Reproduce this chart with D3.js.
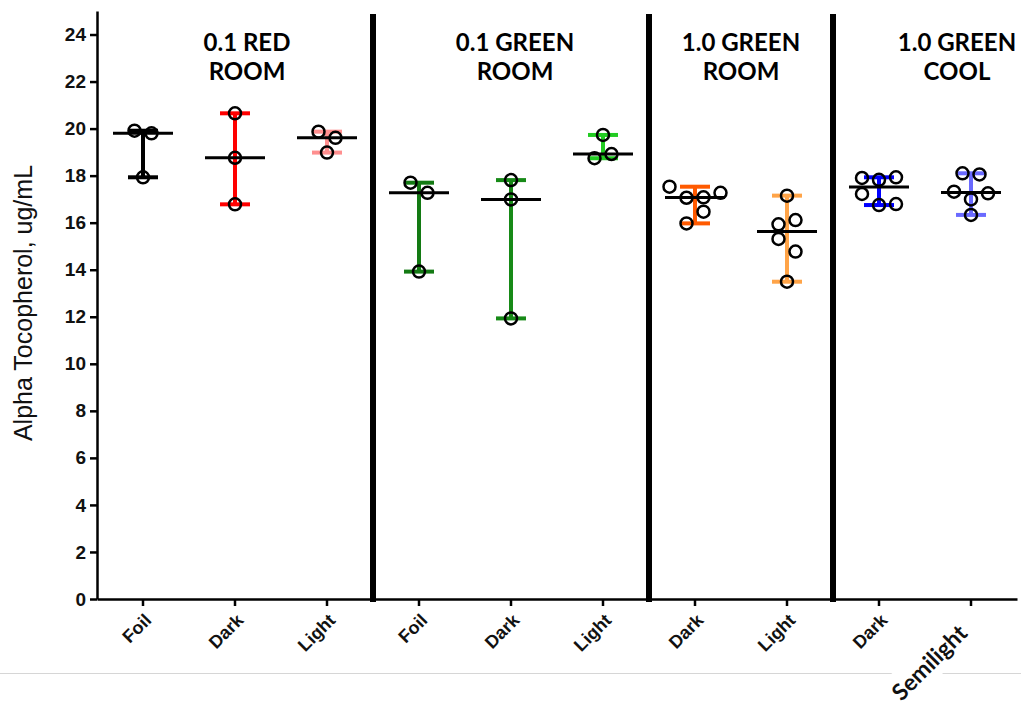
<!DOCTYPE html>
<html>
<head>
<meta charset="utf-8">
<script src="https://cdn.jsdelivr.net/npm/d3@7"></script>
<style>
  html, body { margin: 0; padding: 0; background: #fff; overflow: hidden; }
  svg { display: block; }
</style>
</head>
<body>
<div id="chart"></div>
<script>
const WIDTH  = 1021;
const HEIGHT = 711;

// categories along the x axis (left to right)
const categories = ["Foil", "Dark", "Light", "Foil", "Dark", "Light", "Dark", "Light", "Dark", "Semilight"];

// condition groups, title lines and how many categories each spans
const groupTitles = [["0.1 RED", "ROOM"], ["0.1 GREEN", "ROOM"], ["1.0 GREEN", "ROOM"], ["1.0 GREEN", "COOL"]];
const groupSizes  = [3, 3, 2, 2];

// measured values (ug/mL), one array per category
const redFoil    = [19.91, 19.80, 17.93];
const redDark    = [20.65, 18.76, 16.78];
const redLight   = [19.87, 19.61, 18.98];
const greenFoil  = [17.70, 17.27, 13.92];
const greenDark  = [17.81, 16.99, 11.93];
const greenLight = [19.73, 18.74, 18.92];
const roomDark   = [17.53, 17.06, 17.08, 17.27, 15.97, 16.47];
const roomLight  = [17.15, 15.93, 16.11, 15.31, 14.77, 13.49];
const coolDark   = [17.90, 17.82, 17.93, 17.22, 16.75, 16.79];
const coolSemi   = [18.10, 18.05, 17.32, 16.99, 17.25, 16.33];

const series = [redFoil, redDark, redLight, greenFoil, greenDark, greenLight,
                roomDark, roomLight, coolDark, coolSemi];

// range bar colour per category
const barColors = ["#000000", "#ff0000", "#ff8f8f", "#137a13", "#178a17", "#22cc22",
                   "#ff5a00", "#ffa448", "#0000ff", "#6a6aff"];

const yTicks = d3.range(0, 25, 2);

// layout
const X0 = 97, X1 = 1017, Y0 = 599, YTOP = 11;
const DOT_R = 6;
const MEDIAN_HALF = 30;
const CAP_HALF = 15;
const BIN_PX = 13;
const DODGE = 17;
const titleDx = [12, 4, 0, 32];

const svg = d3.select("#chart").append("svg")
  .attr("width", WIDTH)
  .attr("height", HEIGHT)
  .style("background", "#fff");

// faint page separator line
svg.append("line")
  .attr("x1", 0).attr("x2", WIDTH)
  .attr("y1", 673.5).attr("y2", 673.5)
  .attr("stroke", "#d6d6d6").attr("stroke-width", 1);

const x = d3.scaleBand().domain(d3.range(categories.length)).range([X0, X1]);
const y = d3.scaleLinear().domain([0, 25]).range([Y0, YTOP]);
const cx = i => x(i) + x.bandwidth() / 2;

// y axis
const yAxis = svg.append("g")
  .attr("transform", `translate(${X0},0)`)
  .call(d3.axisLeft(y).tickValues(yTicks).tickSize(7).tickSizeOuter(0).tickPadding(4));
yAxis.select(".domain").attr("stroke", "#000").attr("stroke-width", 2.5);
yAxis.selectAll(".tick line").attr("stroke", "#000").attr("stroke-width", 2.5);
yAxis.selectAll(".tick text")
  .attr("fill", "#111")
  .style("font-family", "'Liberation Sans', Arial, sans-serif")
  .style("font-weight", "bold")
  .style("font-size", "19px");

// y title
svg.append("text")
  .attr("transform", "translate(23,303) rotate(-90)")
  .attr("text-anchor", "middle")
  .attr("dominant-baseline", "central")
  .style("font-family", "'Liberation Sans', Arial, sans-serif")
  .style("font-size", "25px")
  .attr("fill", "#111")
  .text("Alpha Tocopherol, ug/mL");

// x axis
const xAxis = svg.append("g")
  .attr("transform", `translate(0,${Y0})`)
  .call(d3.axisBottom(x).tickFormat(i => categories[i]).tickSize(7).tickSizeOuter(0));
xAxis.select(".domain").attr("stroke", "#000").attr("stroke-width", 2.5);
xAxis.selectAll(".tick line").attr("stroke", "#000").attr("stroke-width", 2.5);
xAxis.selectAll(".tick text")
  .attr("x", 0).attr("y", 0).attr("dy", "0.35em")
  .attr("text-anchor", "end")
  .attr("fill", "#111")
  .attr("transform", "translate(5,18) rotate(-45)")
  .style("font-family", "'Liberation Sans', Arial, sans-serif")
  .style("font-weight", "bold")
  .style("font-size", "18px");

// the last label was pasted in with another font on a white patch
xAxis.selectAll(".tick").filter(i => i === categories.length - 1).each(function() {
  const g = d3.select(this);
  const t = g.select("text")
    .attr("transform", "translate(-8,30) rotate(-45)")
    .style("font-family", "Lato, 'Open Sans', sans-serif")
    .style("font-size", "23px");
  const bb = t.node().getBBox();
  g.insert("rect", "text")
    .attr("x", bb.x - 8).attr("y", bb.y - 4)
    .attr("width", bb.width + 16).attr("height", bb.height + 8)
    .attr("transform", t.attr("transform"))
    .attr("fill", "#fff");
});

// group dividers
let start = 0;
const groupStarts = groupSizes.map(n => { const s = start; start += n; return s; });
svg.append("g").selectAll("line")
  .data(groupStarts.slice(1))
  .join("line")
  .attr("x1", s => x(s)).attr("x2", s => x(s))
  .attr("y1", 14).attr("y2", 602)
  .attr("stroke", "#000").attr("stroke-width", 6);

// group titles
const titles = svg.append("g")
  .style("font-family", "Lato, 'Open Sans', sans-serif")
  .style("font-weight", "bold")
  .style("font-size", "24px")
  .attr("fill", "#000")
  .attr("text-anchor", "middle");
groupTitles.forEach((lines, gi) => {
  const s = groupStarts[gi];
  const mid = (x(s) + x(s + groupSizes[gi] - 1) + x.bandwidth()) / 2 + titleDx[gi];
  lines.forEach((line, li) => {
    titles.append("text")
      .attr("x", mid)
      .attr("y", 51 + li * 29)
      .text(line);
  });
});

// dodge points that share a row, like a scatter dot plot
function dodge(vals) {
  const order = d3.range(vals.length).sort((a, b) => vals[a] - vals[b]);
  const bins = [];
  order.forEach(k => {
    const last = bins[bins.length - 1];
    if (last && y(vals[last[0]]) - y(vals[k]) <= BIN_PX) last.push(k);
    else bins.push([k]);
  });
  const off = new Array(vals.length).fill(0);
  bins.forEach(b => {
    b.sort((a, c) => a - c);
    b.forEach((k, j) => { off[k] = (j - (b.length - 1) / 2) * DODGE; });
  });
  return off;
}

const plot = svg.append("g");

series.forEach((vals, i) => {
  const c = cx(i);
  const [lo, hi] = d3.extent(vals);
  const med = d3.median(vals);
  const col = barColors[i];
  const g = plot.append("g");

  // range bar
  g.append("line")
    .attr("x1", c).attr("x2", c)
    .attr("y1", y(lo)).attr("y2", y(hi))
    .attr("stroke", col).attr("stroke-width", 4);
  g.selectAll("line.cap")
    .data([lo, hi])
    .join("line")
    .attr("class", "cap")
    .attr("x1", c - CAP_HALF).attr("x2", c + CAP_HALF)
    .attr("y1", d => y(d)).attr("y2", d => y(d))
    .attr("stroke", col).attr("stroke-width", 4);

  // median
  g.append("line")
    .attr("x1", c - MEDIAN_HALF).attr("x2", c + MEDIAN_HALF)
    .attr("y1", y(med)).attr("y2", y(med))
    .attr("stroke", "#000").attr("stroke-width", 3);

  // points
  const off = dodge(vals);
  g.selectAll("circle")
    .data(vals)
    .join("circle")
    .attr("cx", (d, k) => c + off[k])
    .attr("cy", d => y(d))
    .attr("r", DOT_R)
    .attr("fill", "none")
    .attr("stroke", "#000")
    .attr("stroke-width", 2.5);
});
</script>
</body>
</html>
